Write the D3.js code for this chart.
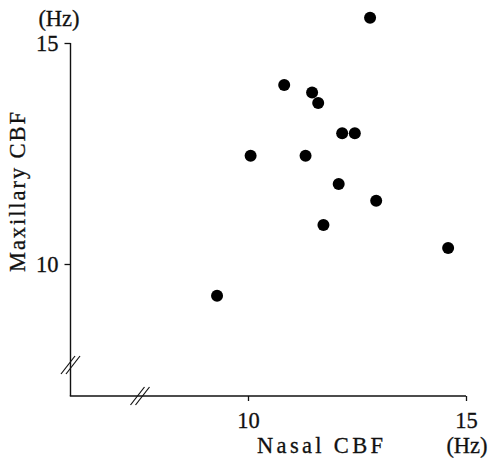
<!DOCTYPE html>
<html><head><meta charset="utf-8">
<script src="https://cdn.jsdelivr.net/npm/d3@7"></script>
<style>body{margin:0;background:#fff}svg{display:block}</style>
</head><body>
<script>
const nasal =     [12.80, 10.83, 11.47, 11.61, 12.16, 12.45, 10.06, 11.32, 12.08, 12.94, 11.73, 14.59, 9.29];
const maxillary = [15.57, 14.05, 13.88, 13.64, 12.96, 12.96, 12.45, 12.45, 11.81, 11.43, 10.88, 10.36, 9.28];
const xTicks = [10, 15];
const yTicks = [10, 15];
const xTitle = "Nasal CBF", yTitle = "Maxillary CBF", unit = "(Hz)";

const W = 488, H = 462;
const svg = d3.select("body").append("svg").attr("width", W).attr("height", H);
const x = d3.scaleLinear().domain([10, 15]).range([248, 466]);
const y = d3.scaleLinear().domain([10, 15]).range([264, 43]);
const font = "Liberation Serif";
const fs = 22.5;
const x0 = 70.5, y0 = 396;

// y axis
const ya = svg.append("g").attr("transform", `translate(${x0},0)`)
  .call(d3.axisLeft(y).tickValues(yTicks).tickSize(6).tickPadding(6).tickFormat(d3.format("d")));
ya.select(".domain").remove();
ya.attr("font-family", font).attr("font-size", fs);
ya.selectAll("line").attr("stroke", "#111").attr("stroke-width", 1.3);
ya.selectAll("text").attr("fill", "#111").attr("stroke", "#111").attr("stroke-width", 0.3).attr("dy", "0.33em");

// x axis
const xa = svg.append("g").attr("transform", `translate(0,${y0})`)
  .call(d3.axisBottom(x).tickValues(xTicks).tickSize(5).tickPadding(13).tickFormat(d3.format("d")));
xa.select(".domain").remove();
xa.attr("font-family", font).attr("font-size", fs);
xa.selectAll("line").attr("stroke", "#111").attr("stroke-width", 1.3);
xa.selectAll("text").attr("fill", "#111").attr("stroke", "#111").attr("stroke-width", 0.3).attr("dy", "0.64em");

// axis lines
svg.append("line").attr("x1", x0).attr("x2", x0).attr("y1", y(15)).attr("y2", y0)
  .attr("stroke", "#111").attr("stroke-width", 1.4);
svg.append("line").attr("x1", x0 - 0.7).attr("x2", x(15)).attr("y1", y0).attr("y2", y0)
  .attr("stroke", "#111").attr("stroke-width", 1.4);

// break marks
function brk(cx, cy) {
  [-2.5, 2.5].forEach(o => {
    svg.append("line")
      .attr("x1", cx - 7 + o).attr("y1", cy + 9)
      .attr("x2", cx + 7 + o).attr("y2", cy - 9)
      .attr("stroke", "#111").attr("stroke-width", 1.2);
  });
}
brk(x0, 365);
brk(140, y0);

// points
svg.append("g").selectAll("circle").data(nasal).join("circle")
  .attr("cx", (d) => x(d)).attr("cy", (d, i) => y(maxillary[i])).attr("r", 6).attr("fill", "#000");

// titles
const t = (sel) => sel.attr("font-family", font).attr("font-size", fs).attr("fill", "#111")
  .attr("stroke", "#111").attr("stroke-width", 0.3);
svg.append("text").attr("x", 257).attr("y", 453).attr("textLength", 126).attr("lengthAdjust", "spacing").call(t).text(xTitle);
svg.append("text").attr("x", 467).attr("y", 453).attr("text-anchor", "middle").call(t).text(unit);
svg.append("text").attr("x", 59).attr("y", 26).attr("text-anchor", "middle").call(t).text(unit);
svg.append("text").attr("transform", "translate(25,272) rotate(-90)").attr("textLength", 160)
  .attr("lengthAdjust", "spacing").call(t).text(yTitle);
</script>
</body></html>
